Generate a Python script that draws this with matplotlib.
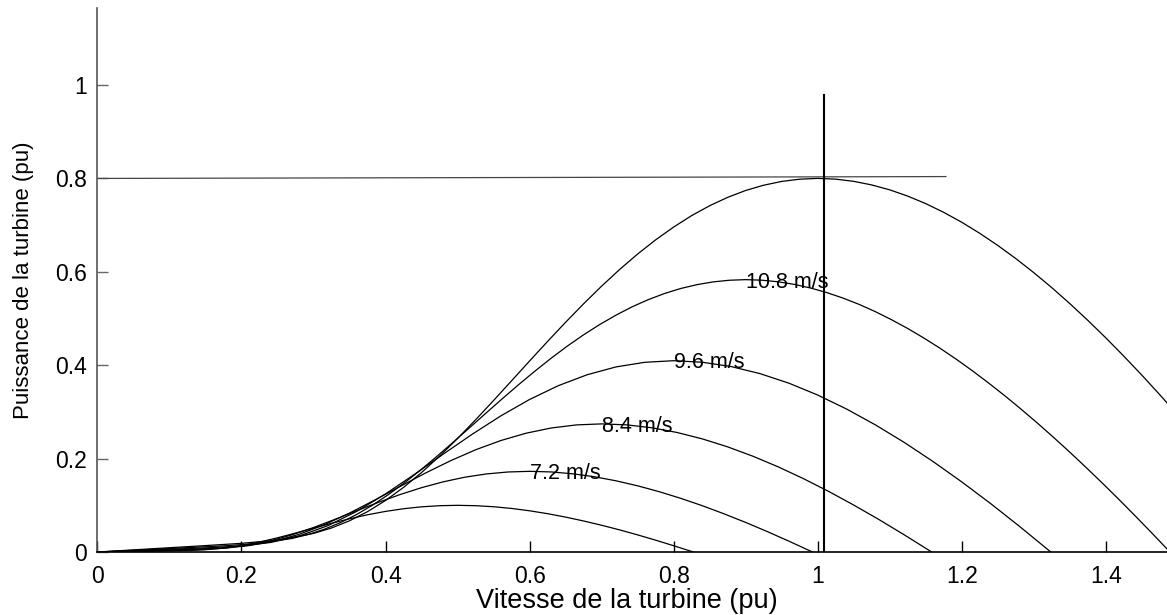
import matplotlib
matplotlib.use("Agg")
import matplotlib.pyplot as plt
from matplotlib.ticker import FormatStrFormatter

plt.rcParams['font.family'] = ['Liberation Sans', 'DejaVu Sans']

# courbes de puissance (vitesse de la turbine pu, puissance pu)
x_12 = [0, .05, .1, .15, .2, .25, .3, .325, .35, .375, .4, .425, .45, .475, .5, .525, .55, .575,
        .6, .625, .65, .675, .7, .725, .75, .775, .8, .825, .85, .875, .9, .925, .95, .975, 1.0,
        1.025, 1.05, 1.075, 1.1, 1.125, 1.15, 1.175, 1.2, 1.225, 1.25, 1.275, 1.3, 1.325, 1.35,
        1.375, 1.4, 1.425, 1.45, 1.475, 1.5, 1.525]
p_12 = [0, .0046, .0092, .0138, .0186, .0257, .0398, .0515, .0669, .0865, .1104, .1384, .1702,
        .2053, .2432, .2831, .3245, .3667, .4091, .4510, .4920, .5316, .5694, .6050, .6381, .6685,
        .6959, .7204, .7416, .7595, .7742, .7855, .7936, .7984, .8001, .7985, .7938, .7861, .7756,
        .7622, .7461, .7274, .7062, .6825, .6566, .6285, .5983, .5662, .5321, .4962, .4587, .4195,
        .3789, .3368, .2934, .2487]

x_108 = [0, .045, .09, .135, .18, .225, .27, .2925, .315, .3375, .36, .3825, .405, .4275, .45,
         .4725, .495, .5175, .54, .5625, .585, .6075, .63, .6525, .675, .6975, .72, .7425, .765,
         .7875, .81, .8325, .855, .8775, .9, .9225, .945, .9675, .99, 1.0125, 1.035, 1.0575, 1.08,
         1.1025, 1.125, 1.1475, 1.17, 1.1925, 1.215, 1.2375, 1.26, 1.2825, 1.305, 1.3275, 1.35,
         1.3725, 1.395, 1.4175, 1.44, 1.4625, 1.485, 1.4891]
p_108 = [0, .0034, .0067, .0101, .0136, .0187, .0290, .0375, .0488, .0631, .0805, .1009, .1241,
         .1497, .1773, .2064, .2366, .2673, .2982, .3288, .3587, .3875, .4151, .4411, .4652, .4873,
         .5073, .5252, .5406, .5537, .5644, .5726, .5785, .5820, .5833, .5821, .5787, .5731, .5654,
         .5556, .5439, .5303, .5148, .4975, .4787, .4582, .4362, .4128, .3879, .3617, .3344, .3058,
         .2762, .2455, .2139, .1813, .1479, .1137, .0787, .0430, .0067, 0]

x_96 = [0, .04, .08, .12, .16, .2, .24, .28, .32, .36, .4, .44, .48, .52, .56, .6, .64, .68, .72,
        .76, .8, .84, .88, .92, .96, 1.0, 1.04, 1.08, 1.12, 1.16, 1.2, 1.24, 1.28, 1.32, 1.3237]
p_96 = [0, .0024, .0047, .0071, .0095, .0132, .0204, .0343, .0565, .0871, .1245, .1661, .2095,
        .2519, .2915, .3267, .3563, .3797, .3964, .4063, .4097, .4064, .3971, .3820, .3616, .3362,
        .3063, .2724, .2349, .1940, .1502, .1039, .0552, .0047, 0]

x_84 = [0, .035, .07, .105, .14, .175, .21, .245, .28, .315, .35, .385, .42, .455, .49, .525, .56,
        .595, .63, .665, .7, .735, .77, .805, .84, .875, .91, .945, .98, 1.015, 1.05, 1.085, 1.12,
        1.155, 1.1582]
p_84 = [0, .0016, .0032, .0047, .0064, .0088, .0137, .0229, .0379, .0584, .0834, .1113, .1403,
        .1688, .1953, .2189, .2387, .2544, .2656, .2722, .2744, .2723, .2660, .2559, .2422, .2252,
        .2052, .1825, .1573, .1300, .1006, .0696, .0370, .0032, 0]

x_72 = [0, .03, .06, .09, .12, .15, .18, .21, .24, .27, .3, .33, .36, .39, .42, .45, .48, .51, .54,
        .57, .6, .63, .66, .69, .72, .75, .78, .81, .84, .87, .9, .93, .96, .99, .9928]
p_72 = [0, .0010, .0020, .0030, .0040, .0056, .0086, .0145, .0238, .0368, .0525, .0701, .0884,
        .1063, .1230, .1378, .1503, .1602, .1672, .1714, .1728, .1715, .1675, .1612, .1525, .1418,
        .1292, .1149, .0991, .0818, .0634, .0438, .0233, .0020, 0]

x_6 = [0, .025, .05, .075, .1, .125, .15, .175, .2, .225, .25, .275, .3, .325, .35, .375, .4, .425,
       .45, .475, .5, .525, .55, .575, .6, .625, .65, .675, .7, .725, .75, .775, .8, .825, .8273]
p_6 = [0, .0006, .0012, .0017, .0023, .0032, .0050, .0084, .0138, .0213, .0304, .0406, .0511,
       .0615, .0712, .0798, .0870, .0927, .0968, .0992, .1000, .0992, .0970, .0933, .0883, .0821,
       .0748, .0665, .0573, .0474, .0367, .0254, .0135, .0012, 0]

courbes = [(x_12, p_12), (x_108, p_108), (x_96, p_96), (x_84, p_84), (x_72, p_72), (x_6, p_6)]

# étiquettes des vitesses de vent
labels = ['10.8 m/s', '9.6 m/s', '8.4 m/s', '7.2 m/s']
label_x = [0.90, 0.80, 0.70, 0.60]
label_y = [0.578, 0.406, 0.268, 0.168]

# point nominal
x_nom = [1.009, 1.009]
y_nom = [0, 0.978]
x_hor = [0, 1.178]
y_hor = [0.800, 0.804]

xticks = [0, 0.2, 0.4, 0.6, 0.8, 1.0, 1.2, 1.4]
yticks = [0, 0.2, 0.4, 0.6, 0.8, 1.0]

fig = plt.figure(figsize=(11.67, 6.15), dpi=100)
ax = fig.add_axes([0.0835, 0.1024, 0.9165, 0.8846])

for xs, ps in courbes:
    ax.plot(xs, ps, color='black', linewidth=0.9)

ax.plot(x_hor, y_hor, color='#444444', linewidth=0.9)
ax.plot(x_nom, y_nom, color='black', linewidth=1.5)

for t, lx, ly in zip(labels, label_x, label_y):
    ax.text(lx, ly, t, fontsize=15.5, ha='left', va='center')

ax.set_xlim(0, 1.485)
ax.set_ylim(0, 1.165)
ax.set_xticks(xticks)
ax.set_yticks(yticks)
ax.xaxis.set_major_formatter(FormatStrFormatter('%g'))
ax.yaxis.set_major_formatter(FormatStrFormatter('%g'))
ax.tick_params(direction='in', length=8, width=1, labelsize=16.5)
ax.tick_params(axis='x', pad=9.5)
ax.tick_params(axis='y', pad=7.5, color='#666666')

ax.spines['top'].set_visible(False)
ax.spines['right'].set_visible(False)
ax.spines['left'].set_color('#555555')
ax.spines['left'].set_linewidth(1.2)
ax.spines['bottom'].set_linewidth(1.2)

ax.set_xlabel('Vitesse de la turbine (pu)', fontsize=19.5)
ax.xaxis.set_label_coords(0.495, -0.066)
ax.set_ylabel('Puissance de la turbine (pu)', fontsize=16, labelpad=15)

fig.savefig('out.png', dpi=100)
